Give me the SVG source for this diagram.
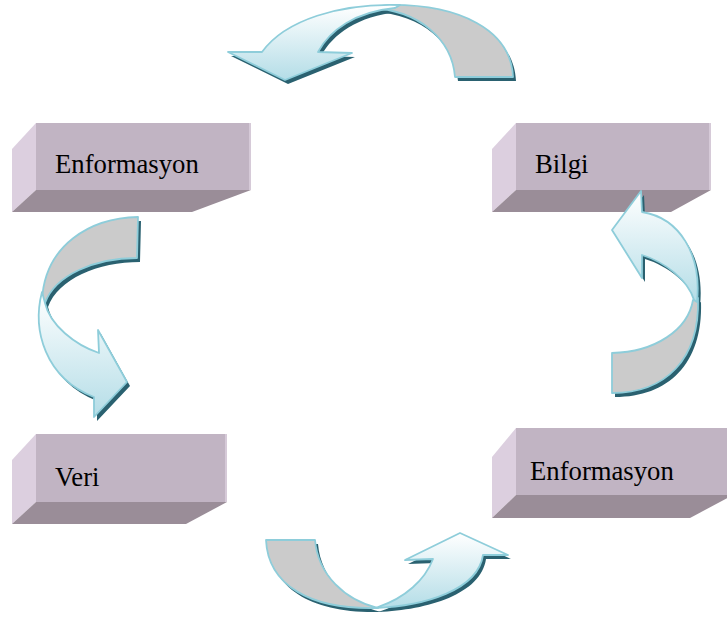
<svg xmlns="http://www.w3.org/2000/svg" width="727" height="623" viewBox="0 0 727 623">
  <defs>
    <linearGradient id="frontBand" x1="0" y1="0" x2="0" y2="1">
      <stop offset="0" stop-color="#FFFFFF"/>
      <stop offset="1" stop-color="#B4DDE7"/>
    </linearGradient>
    <style>
      .face-front { fill: #C1B4C3; }
      .face-side { fill: #DCCFDF; }
      .face-bottom { fill: #9A8D98; }
      .edge-hi { fill: #D6CAD8; }
      .label { font-family: "Liberation Serif", "Times New Roman", serif; font-size: 26.7px; fill: #000000; }
      .shadow { fill: #2A6170; }
      .back { fill: #CBCBCB; stroke: #8ECDDA; stroke-width: 1.8; stroke-linejoin: round; }
      .front { fill: url(#frontBand); stroke: #8ECDDA; stroke-width: 1.8; stroke-linejoin: round; }
    </style>
  </defs>

  <rect width="727" height="623" fill="#FFFFFF"/>

  <!-- Extruded boxes -->
  <g id="node-enformasyon-top">
    <polygon class="face-side" points="36,123 12,149 12,212 36,190"/>
    <polygon class="face-bottom" points="36,190 251,190 192,212 12,212"/>
    <rect class="face-front" x="36" y="123" width="215" height="67"/>
    <rect class="edge-hi" x="249" y="123" width="2" height="67"/>
    <text class="label" x="55" y="173">Enformasyon</text>
  </g>

  <g id="node-bilgi">
    <polygon class="face-side" points="516,123 492,149 492,212 516,190"/>
    <polygon class="face-bottom" points="516,190 711,190 671,212 492,212"/>
    <rect class="face-front" x="516" y="123" width="195" height="67"/>
    <rect class="edge-hi" x="709" y="123" width="2" height="67"/>
    <text class="label" x="535" y="173">Bilgi</text>
  </g>

  <g id="node-veri">
    <polygon class="face-side" points="36,434 12,460 12,524 36,502"/>
    <polygon class="face-bottom" points="36,502 227,502 186,524 12,524"/>
    <rect class="face-front" x="36" y="434" width="191" height="68"/>
    <rect class="edge-hi" x="225" y="434" width="2" height="68"/>
    <text class="label" x="55" y="486">Veri</text>
  </g>

  <g id="node-enformasyon-bottom">
    <polygon class="face-side" points="516,428 492,457 492,518 516,495"/>
    <polygon class="face-bottom" points="516,495 733,495 690,518 492,518"/>
    <rect class="face-front" x="516" y="428" width="215" height="67"/>
    <text class="label" x="530" y="480">Enformasyon</text>
  </g>

  <!-- Curved arrows: grey underside near the tail, gradient face toward the head -->
  <g id="connectors">
    <g id="arrow-top">
      <g class="shadow" transform="translate(3,4)">
        <path d="M455,77 L513,77 C511,30 460,4 388,5 L370,8 C420,10 452,40 455,77 Z"/>
        <path d="M400,5 C340,3 285,20 262,52 L228,52 L285,80 L352,53 L318,52 C330,30 355,12 395,8 Z"/>
      </g>
      <path class="back" d="M455,77 L513,77 C511,30 460,4 388,5 L370,8 C420,10 452,40 455,77 Z"/>
      <path class="front" d="M400,5 C340,3 285,20 262,52 L228,52 L285,80 L352,53 L318,52 C330,30 355,12 395,8 Z"/>
    </g>

    <g id="arrow-left">
      <g class="shadow" transform="translate(3,4)">
        <path d="M137,258 L138,217 C90,218 45,245 42,300 L45,303 C55,275 95,258 137,258 Z"/>
        <path d="M42,292 C32,330 45,378 94,397 L94,417 L127,382 L98,330 L99,353 C75,345 50,325 45,303 Z"/>
      </g>
      <path class="back" d="M137,258 L138,217 C90,218 45,245 42,300 L45,303 C55,275 95,258 137,258 Z"/>
      <path class="front" d="M42,292 C32,330 45,378 94,397 L94,417 L127,382 L98,330 L99,353 C75,345 50,325 45,303 Z"/>
    </g>

    <g id="arrow-right">
      <g class="shadow" transform="translate(3,4)">
        <path d="M612,353 L612,393 C665,393 700,360 698,298 L693,300 C688,330 655,352 612,353 Z"/>
        <path d="M697,302 C702,255 680,218 642,212 L641,191 L612,230 L642,278 L642,255 C665,262 688,280 694,300 Z"/>
      </g>
      <path class="back" d="M612,353 L612,393 C665,393 700,360 698,298 L693,300 C688,330 655,352 612,353 Z"/>
      <path class="front" d="M697,302 C702,255 680,218 642,212 L641,191 L612,230 L642,278 L642,255 C665,262 688,280 694,300 Z"/>
    </g>

    <g id="arrow-bottom">
      <g class="shadow" transform="translate(3,4)">
        <path d="M315,540 L266,540 C268,585 310,610 378,608 C345,600 318,575 315,540 Z"/>
        <path d="M375,608 C425,606 478,590 483,555 L508,555 L460,533 L405,560 L433,559 C425,580 405,598 378,607 Z"/>
      </g>
      <path class="back" d="M315,540 L266,540 C268,585 310,610 378,608 C345,600 318,575 315,540 Z"/>
      <path class="front" d="M375,608 C425,606 478,590 483,555 L508,555 L460,533 L405,560 L433,559 C425,580 405,598 378,607 Z"/>
    </g>
  </g>
</svg>
